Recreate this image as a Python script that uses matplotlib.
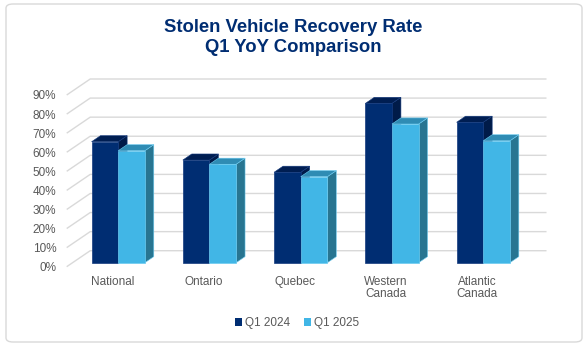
import matplotlib
matplotlib.use("Agg")
import matplotlib.pyplot as plt
from matplotlib.patches import Polygon, FancyBboxPatch
from matplotlib.ticker import FixedLocator

plt.rcParams['font.family'] = ['Liberation Sans', 'DejaVu Sans']

categories = ["National", "Ontario", "Quebec", "Western\nCanada", "Atlantic\nCanada"]
series_names = ["Q1 2024", "Q1 2025"]
q1_2024 = [63.4, 53.8, 47.4, 83.5, 73.6]
q1_2025 = [58.7, 51.6, 45.1, 72.7, 63.9]
y_ticks = [0, 10, 20, 30, 40, 50, 60, 70, 80, 90]
y_tick_labels = ["0%", "10%", "20%", "30%", "40%", "50%", "60%", "70%", "80%", "90%"]

# colours
front_cols = ["#002D72", "#41B6E6"]
top_cols = ["#001E52", "#2F8CB4"]
side_cols = ["#001B49", "#287591"]
edge_cols = ["#143A7E", "#6CCBF0"]
grid_col = "#D9D9D9"
text_col = "#595959"
title_col = "#002D72"

W, H = 588, 346
fig = plt.figure(figsize=(W / 100, H / 100), dpi=100)

# border
border = FancyBboxPatch((6 / W, 4 / H), 576 / W, 338 / H,
                        boxstyle="round,pad=0,rounding_size=0.012",
                        transform=fig.transFigure, facecolor="none",
                        edgecolor="#D9D9D9", linewidth=1.0, zorder=-1)
fig.patches.append(border)

ax = fig.add_axes([66.7 / W, (H - 266.7) / H, 456.3 / W, 171.7 / H])
ax.set_xlim(-0.5, 4.5)
ax.set_ylim(0, 90)
ax.patch.set_alpha(0)
for s in ax.spines.values():
    s.set_visible(False)

# oblique depth (in data units)
DX = 23.5 / 91.25
DY = 16.0 / 1.908
d0, d1 = 0.25, 0.63
bw = 0.292

# walls / gridlines
for v in y_ticks:
    ax.plot([-0.5, -0.5 + DX, 4.5 + DX], [v, v + DY, v + DY],
            color=grid_col, lw=1.0, clip_on=False, zorder=1,
            solid_capstyle='butt')

# bars
for i in range(len(categories)):
    for k, vals in enumerate([q1_2024, q1_2025]):
        v = vals[i]
        x0 = i - bw + k * bw + d0 * DX
        x1 = x0 + bw
        yb = d0 * DY
        yt = yb + v
        ddx = (d1 - d0) * DX
        ddy = (d1 - d0) * DY
        z = 3 + k
        # side face
        ax.add_patch(Polygon([(x1, yb), (x1 + ddx, yb + ddy), (x1 + ddx, yt + ddy), (x1, yt)],
                             closed=True, facecolor=side_cols[k], edgecolor=edge_cols[k],
                             lw=0.4, clip_on=False, zorder=z))
        # top face
        ax.add_patch(Polygon([(x0, yt), (x1, yt), (x1 + ddx, yt + ddy), (x0 + ddx, yt + ddy)],
                             closed=True, facecolor=top_cols[k], edgecolor=edge_cols[k],
                             lw=0.4, clip_on=False, zorder=z))
        # front face
        ax.bar(x0, v, bottom=yb, width=bw, align='edge', color=front_cols[k],
               edgecolor=edge_cols[k], linewidth=0.5, clip_on=False, zorder=z,
               label=series_names[k] if i == 0 else None)

# axes labels
ax.yaxis.set_major_locator(FixedLocator(y_ticks))
ax.set_yticklabels(y_tick_labels)
ax.set_xticks(range(len(categories)))
ax.set_xticklabels(categories)
ax.tick_params(axis='y', length=0, pad=7.5, labelsize=8.5, labelcolor=text_col)
ax.tick_params(axis='x', length=0, pad=7.0, labelsize=8.5, labelcolor=text_col)
for lbl in ax.get_xticklabels():
    lbl.set_linespacing(1.0)
    lbl.set_multialignment('center')

# title
fig.text(293 / W, (H - 37.5) / H, "Stolen Vehicle Recovery Rate\nQ1 YoY Comparison",
         ha='center', va='center', fontsize=13.3, fontweight='bold',
         color=title_col, linespacing=1.3)

# legend
handles, labels = ax.get_legend_handles_labels()
leg = fig.legend(handles, labels, loc='center', bbox_to_anchor=(297 / W, (H - 323) / H),
                 ncol=2, frameon=False, fontsize=8.5, handlelength=0.6, handleheight=0.6,
                 handletextpad=0.25, columnspacing=1.2, labelcolor=text_col)
for h in leg.legend_handles:
    h.set_edgecolor('none')

fig.savefig("out.png", dpi=100)
